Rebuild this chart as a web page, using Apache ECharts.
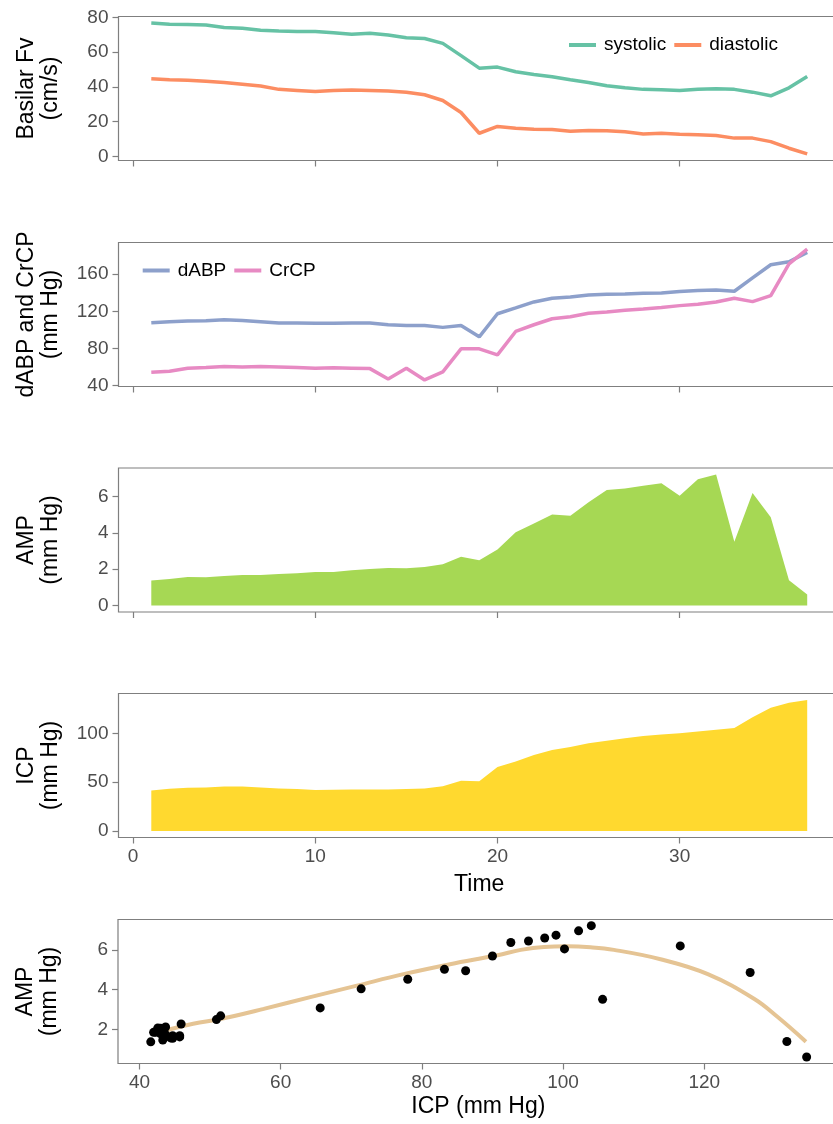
<!DOCTYPE html>
<html>
<head>
<meta charset="utf-8">
<script src="https://cdn.jsdelivr.net/npm/echarts@6/dist/echarts.min.js"></script>
<style>
html,body{margin:0;padding:0;background:#fff;overflow:hidden;width:833px;height:1124px;}
#chart{width:860px;height:1124px;}
</style>
</head>
<body>
<div id="chart"></div>
<script>
const time = [1,2,3,4,5,6,7,8,9,10,11,12,13,14,15,16,17,18,19,20,21,22,23,24,25,26,27,28,29,30,31,32,33,34,35,36,37];
const systolic = [76.7,76.0,75.8,75.6,74.1,73.7,72.5,72.1,71.9,71.9,71.1,70.2,70.8,69.8,68.3,67.8,65.0,58.0,50.8,51.4,48.7,47.2,45.9,44.1,42.6,40.7,39.5,38.6,38.4,38.0,38.7,39.0,38.6,37.0,34.9,39.5,46.0];
const diastolic = [44.7,44.1,43.8,43.2,42.6,41.6,40.5,38.6,38.0,37.4,38.0,38.2,38.0,37.6,37.0,35.5,32.2,25.3,13.4,17.3,16.3,15.7,15.5,14.6,15.0,14.8,14.2,13.0,13.4,12.8,12.6,12.1,10.6,10.6,8.6,4.8,1.5];
const dABP = [107.7,108.8,109.5,109.9,110.9,110.2,108.8,107.4,107.4,107.0,107.0,107.4,107.4,105.5,104.8,104.8,102.7,104.8,92.5,117.4,123.6,130.1,134.1,135.5,137.6,138.4,138.7,139.4,139.8,141.2,142.3,143.0,141.6,156.0,170.1,173.3,183.4];
const crcp = [54.4,55.5,58.7,59.4,60.5,60.1,60.5,60.1,59.4,58.7,59.1,58.7,58.3,47.2,58.7,46.1,54.8,79.6,79.6,73.1,98.3,105.5,112.0,114.1,117.8,119.3,121.1,122.5,124.0,126.1,127.6,130.1,134.1,130.4,136.9,171.1,187.0];
const amp = [1.37,1.46,1.57,1.55,1.62,1.68,1.68,1.73,1.77,1.85,1.85,1.94,2.01,2.07,2.05,2.12,2.27,2.68,2.49,3.08,4.04,4.52,5.02,4.95,5.69,6.37,6.45,6.60,6.74,6.05,6.96,7.22,3.51,6.20,4.86,1.39,0.61];
const icp = [41.6,43.3,44.4,44.7,45.7,45.7,44.7,43.7,43.0,42.0,42.3,42.6,42.6,42.6,43.0,43.7,45.9,51.5,50.9,65.6,71.4,78.0,83.2,86.2,90.0,92.6,95.1,97.4,99.0,100.2,102.2,104.0,105.6,116.6,126.5,131.7,134.5];
const fitIcp = [41.7,47.6,51.6,57.6,64.2,70.8,77.4,84.0,90.7,94.0,97.3,100.6,103.9,107.2,113.8,120.5,127.1,130.4,134.4];
const fitAmp = [1.76,2.28,2.53,3.03,3.62,4.20,4.78,5.28,5.73,6.00,6.15,6.18,6.13,6.00,5.53,4.78,3.53,2.62,1.38];

const timeTicks = [0,10,20,30];
const fvTicks = [0,20,40,60,80];
const bpTicks = [40,80,120,160];
const ampTicks = [0,2,4,6];
const icpTicks = [0,50,100];
const icpXTicks = [40,60,80,100,120];
const ampScatterTicks = [2,4,6];

const FONT = '"Liberation Sans", Arial, Helvetica, sans-serif';
const BORDER = '#7f7f7f';
const TICKCOL = '#4d4d4d';

const pair = (xs, ys) => xs.map((x, i) => [x, ys[i]]);

function xAx(idx, min, max, ticks, showLabels, name, gap) {
  return {
    type: 'value', gridIndex: idx, min: min, max: max, position: 'bottom',
    axisLine: {show: false, onZero: false},
    axisTick: {show: true, inside: false, length: 6, customValues: ticks, lineStyle: {color: BORDER, width: 1.2}},
    axisLabel: {show: showLabels, customValues: ticks, color: TICKCOL, fontSize: 19, margin: 10, fontFamily: FONT},
    splitLine: {show: false},
    name: name || '', nameLocation: 'middle', nameGap: gap || 33,
    nameTextStyle: {fontSize: 23, color: '#000', fontFamily: FONT}
  };
}
function yAx(idx, min, max, ticks, name) {
  return {
    type: 'value', gridIndex: idx, min: min, max: max, position: 'left',
    axisLine: {show: false, onZero: false},
    axisTick: {show: true, inside: false, length: 6, customValues: ticks, lineStyle: {color: BORDER, width: 1.2}},
    axisLabel: {show: true, customValues: ticks, color: TICKCOL, fontSize: 19, margin: 10, fontFamily: FONT},
    splitLine: {show: false},
    name: name, nameLocation: 'middle', nameRotate: 90, nameGap: 56,
    nameTextStyle: {fontSize: 23, color: '#000', lineHeight: 24, fontFamily: FONT, align: 'center'}
  };
}
function grid(top) {
  return {left: 118.5, top: top, width: 721.5, height: 144, show: true, borderColor: BORDER, borderWidth: 1.2, containLabel: false};
}

const option = {
  animation: false,
  backgroundColor: '#fff',
  textStyle: {fontFamily: FONT},
  grid: [grid(16.5), grid(242.5), grid(468), grid(693.5),
         {left: 118, top: 919.5, width: 720.7, height: 144, show: true, borderColor: BORDER, borderWidth: 1.2}],
  xAxis: [
    xAx(0, -0.8, 38.8, timeTicks, false),
    xAx(1, -0.8, 38.8, timeTicks, false),
    xAx(2, -0.8, 38.8, timeTicks, false),
    xAx(3, -0.8, 38.8, timeTicks, true, 'Time', 36),
    xAx(4, 36.96, 139.04, icpXTicks, true, 'ICP (mm Hg)', 32)
  ],
  yAxis: [
    yAx(0, -2.26, 80.46, fvTicks, 'Basilar Fv\n(cm/s)'),
    yAx(1, 39.05, 194.05, bpTicks, 'dABP and CrCP\n(mm Hg)'),
    yAx(2, -0.361, 7.58, ampTicks, 'AMP\n(mm Hg)'),
    yAx(3, -6.72, 141.1, icpTicks, 'ICP\n(mm Hg)'),
    yAx(4, 0.28, 7.53, ampScatterTicks, 'AMP\n(mm Hg)')
  ],
  legend: [
    {data: ['systolic', 'diastolic'], left: 569, top: 35.5, padding: 0, icon: 'rect', itemWidth: 27, itemHeight: 4, itemGap: 8,
     textStyle: {fontSize: 19, color: '#000', padding: [0, 0, 0, 3], fontFamily: FONT}},
    {data: ['dABP', 'CrCP'], left: 142.7, top: 261, padding: 0, icon: 'rect', itemWidth: 27, itemHeight: 4, itemGap: 8,
     textStyle: {fontSize: 19, color: '#000', padding: [0, 0, 0, 3], fontFamily: FONT}}
  ],
  series: [
    {name: 'systolic', type: 'line', xAxisIndex: 0, yAxisIndex: 0, data: pair(time, systolic), symbol: 'none',
     lineStyle: {color: '#66c2a5', width: 3.5}, itemStyle: {color: '#66c2a5'}},
    {name: 'diastolic', type: 'line', xAxisIndex: 0, yAxisIndex: 0, data: pair(time, diastolic), symbol: 'none',
     lineStyle: {color: '#fc8d62', width: 3.5}, itemStyle: {color: '#fc8d62'}},
    {name: 'dABP', type: 'line', xAxisIndex: 1, yAxisIndex: 1, data: pair(time, dABP), symbol: 'none',
     lineStyle: {color: '#8da0cb', width: 3.5}, itemStyle: {color: '#8da0cb'}},
    {name: 'CrCP', type: 'line', xAxisIndex: 1, yAxisIndex: 1, data: pair(time, crcp), symbol: 'none',
     lineStyle: {color: '#e78ac3', width: 3.5}, itemStyle: {color: '#e78ac3'}},
    {name: 'AMP', type: 'line', xAxisIndex: 2, yAxisIndex: 2, data: pair(time, amp), symbol: 'none',
     lineStyle: {width: 0}, areaStyle: {color: '#a6d854', opacity: 1, origin: 'auto'}},
    {name: 'ICP', type: 'line', xAxisIndex: 3, yAxisIndex: 3, data: pair(time, icp), symbol: 'none',
     lineStyle: {width: 0}, areaStyle: {color: '#ffd92f', opacity: 1, origin: 'auto'}},
    {name: 'fit', type: 'line', xAxisIndex: 4, yAxisIndex: 4, data: pair(fitIcp, fitAmp), symbol: 'none', smooth: 0.4,
     lineStyle: {color: '#e5c494', width: 4}, z: 2},
    {name: 'points', type: 'scatter', xAxisIndex: 4, yAxisIndex: 4, data: pair(icp, amp), symbol: 'circle', symbolSize: 9,
     itemStyle: {color: '#000', opacity: 1}, z: 3}
  ]
};
const chart = echarts.init(document.getElementById('chart'), null, {renderer: 'canvas'});
chart.setOption(option);
</script>
</body>
</html>
